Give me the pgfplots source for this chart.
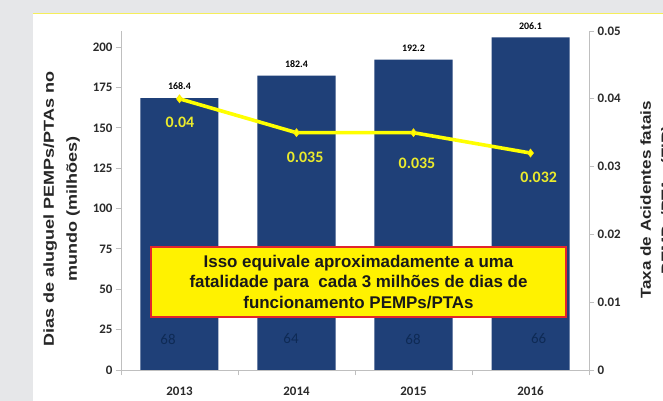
\documentclass[border=0pt]{standalone}
\usepackage{pgfplots}
\pgfplotsset{compat=1.18}
\usepackage{fontspec}
\setmainfont{Carlito}
\newfontfamily\arialf{Liberation Sans}
\definecolor{bgGrey}{HTML}{E6E7E9}
\definecolor{barBlue}{HTML}{1F4078}
\definecolor{lineYel}{HTML}{FFFF00}
\definecolor{lblYel}{HTML}{EBEB2C}
\definecolor{inBar}{HTML}{0E2A55}
\definecolor{axGrey}{HTML}{BFBFBF}
\definecolor{tickTxt}{HTML}{2A2A2A}
\definecolor{boxRed}{HTML}{E3262B}
\definecolor{topYel}{HTML}{F5EE5A}
\begin{document}
\begin{tikzpicture}
\useasboundingbox (-121bp,-31bp) rectangle (542bp,370bp);
\clip (-121bp,-31bp) rectangle (542bp,370bp);
\fill[bgGrey] (-121bp,-31bp) rectangle (542bp,370bp);
\fill[white] (-88bp,-31bp) rectangle (542bp,356.5bp);
\draw[topYel, line width=1.2bp] (-88bp,356.5bp) -- (542bp,356.5bp);

\begin{axis}[
  at={(0,0)}, anchor=south west,
  scale only axis, width=468bp, height=339bp,
  xmin=-0.5, xmax=3.5, ymin=0, ymax=210,
  ybar, bar width=78bp,
  axis x line*=bottom, axis y line*=left,
  axis line style={draw=axGrey, line width=0.9bp, -},
  xtick={0,1,2,3}, xticklabels={2013,2014,2015,2016},
  minor xtick={-0.5,0.5,1.5,2.5,3.5},
  major x tick style={draw=none},
  minor x tick style={draw=axGrey, line width=0.9bp},
  ytick={0,25,...,200},
  y tick style={draw=axGrey, line width=0.9bp},
  tick align=outside, major tick length=5bp, minor tick length=5bp,
  scaled y ticks=false,
  /pgf/number format/assume math mode=true,
  ticklabel style={font=\fontsize{13}{15}\selectfont\bfseries, text=tickTxt},
  xticklabel style={yshift=-8bp},
  ylabel={Dias de aluguel PEMPs/PTAs no\\mundo (milhões)},
  every axis y label/.style={at={(axis description cs:-0.127,0.475)}, anchor=center, rotate=90, xscale=1.25, align=center, font=\arialf\bfseries\fontsize{14.5}{23}\selectfont, text=black!85},
  nodes near coords,
  every node near coord/.append style={font=\fontsize{10}{12}\selectfont\bfseries, text=black, anchor=south, inner sep=0pt, yshift=8bp, /pgf/number format/fixed, /pgf/number format/precision=1},
  clip=false,
]
\addplot[fill=barBlue, draw=none] coordinates {(0,168.4) (1,182.4) (2,192.2) (3,206.1)};
\node[text=inBar, font=\fontsize{15}{17}\selectfont] at (axis cs:-0.098,19.2) {68};
\node[text=inBar, font=\fontsize{15}{17}\selectfont] at (axis cs:0.953,19.2) {64};
\node[text=inBar, font=\fontsize{15}{17}\selectfont] at (axis cs:1.996,19.2) {68};
\node[text=inBar, font=\fontsize{15}{17}\selectfont] at (axis cs:3.07,19.2) {66};
\end{axis}

\begin{axis}[
  at={(0,0)}, anchor=south west,
  scale only axis, width=468bp, height=339bp,
  xmin=-0.5, xmax=3.5, ymin=0, ymax=0.05,
  axis x line=none, axis y line*=right,
  axis line style={draw=axGrey, line width=0.9bp, -},
  ytick={0,0.01,0.02,0.03,0.04,0.05},
  yticklabels={0,0.01,0.02,0.03,0.04,0.05},
  scaled y ticks=false,
  y tick style={draw=axGrey, line width=0.9bp},
  tick align=outside, major tick length=5bp,
  yticklabel style={font=\fontsize{13}{15}\selectfont\bfseries, text=tickTxt},
  ylabel={Taxa de Acidentes fatais\\PEMPs/PTAs (FIR)},
  every axis y label/.style={at={(axis description cs:1.1464,0.5015)}, anchor=center, rotate=90, xscale=1.18, align=center, font=\arialf\bfseries\fontsize{14.5}{21}\selectfont, text=black!85},
  clip=false,
]
\addplot[draw=lineYel, line width=3.6bp, mark=diamond*, mark size=4bp, mark options={fill=lineYel, draw=yellow!85!orange, line width=0.6bp}] coordinates {(0,0.04) (1,0.035) (2,0.035) (3,0.032)};
\node[text=lblYel, font=\fontsize{16}{18}\selectfont\bfseries] at (axis cs:0.004,0.03658) {0.04};
\node[text=lblYel, font=\fontsize{16}{18}\selectfont\bfseries] at (axis cs:1.073,0.03142) {0.035};
\node[text=lblYel, font=\fontsize{16}{18}\selectfont\bfseries] at (axis cs:2.03,0.03053) {0.035};
\node[text=lblYel, font=\fontsize{16}{18}\selectfont\bfseries] at (axis cs:3.07,0.02847) {0.032};
\end{axis}

\node[fill=yellow, draw=boxRed, line width=2bp, minimum width=415bp, minimum height=70bp, inner sep=0pt, align=center, font=\arialf\bfseries\fontsize{17}{20.5}\selectfont, text=black!90] at (237.5bp,88bp) {Isso equivale aproximadamente a uma\\fatalidade para\ \ cada 3 milhões de dias de\\funcionamento PEMPs/PTAs};
\end{tikzpicture}
\end{document}
